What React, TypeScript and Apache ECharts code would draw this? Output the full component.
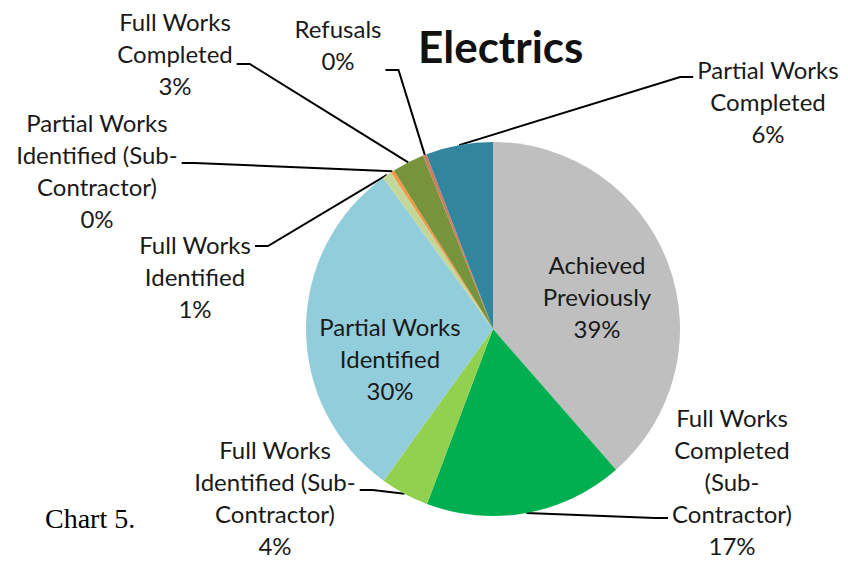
import React, { useEffect, useRef } from "react";
import * as echarts from "echarts";

const categories = [
  "Achieved\nPreviously",
  "Full Works\nCompleted\n(Sub-\nContractor)",
  "Full Works\nIdentified (Sub-\nContractor)",
  "Partial Works\nIdentified",
  "Full Works\nIdentified",
  "Partial Works\nIdentified (Sub-\nContractor)",
  "Full Works\nCompleted",
  "Refusals",
  "Partial Works\nCompleted",
];
const values = [38.6, 17.2, 4.2, 30.1, 0.8, 0.3, 2.8, 0.3, 5.8];
const colors = [
  "#BFBFBF",
  "#00B050",
  "#92D050",
  "#92CDDC",
  "#C4D79B",
  "#F79646",
  "#77933C",
  "#D07A5E",
  "#31859C",
];
const insideLabels = [true, false, false, true, false, false, false, false, false];

// ---- layout only ----
const CX = 493;
const CY = 329;
const R = 187;
// label block centres
const labelPos = [
  [597, 296],
  [732, 481],
  [275, 497],
  [390, 358],
  [195, 276],
  [97, 170],
  [175, 53],
  [338, 44],
  [768, 101],
];
// leader attach side (+1 right edge, -1 left edge) and vertical offset from block centre
const anchorSide = [0, -1, 1, 0, 1, 1, 1, 1, -1];
const anchorDy = [0, 37, -7, 0, -30, -7, 11, 26, -24];

export default function App() {
  const ref = useRef<HTMLDivElement>(null);
  useEffect(() => {
    document.body.style.margin = "0";
    if (!ref.current) return;
    const chart = echarts.init(ref.current, null, { renderer: "svg" });
    const font = "Lato, 'Open Sans', sans-serif";
    const total = values.reduce((a, b) => a + b, 0);
    const midPoint = (i: number) => {
      let before = 0;
      for (let k = 0; k < i; k++) before += values[k];
      const frac = (before + values[i] / 2) / total;
      const th = frac * Math.PI * 2;
      return [CX + R * Math.sin(th), CY - R * Math.cos(th)];
    };
    chart.setOption({
      animation: false,
      backgroundColor: "#ffffff",
      title: {
        text: "Electrics",
        left: 413,
        top: 19,
        textStyle: { fontFamily: font, fontSize: 44, fontWeight: "bold", color: "#111" },
      },
      graphic: [
        {
          type: "text",
          left: 45,
          top: 504,
          style: { text: "Chart 5.", fontFamily: "'Liberation Serif', serif", fontSize: 28, fill: "#000" },
        },
      ],
      series: [
        {
          type: "pie",
          center: [CX, CY],
          radius: R,
          startAngle: 90,
          clockwise: true,
          avoidLabelOverlap: false,
          itemStyle: { borderWidth: 0 },
          label: {
            show: true,
            position: "outside",
            fontFamily: font,
            fontSize: 24,
            lineHeight: 32,
            color: "#1a1a1a",
            align: "center",
            formatter: (p: any) => `${p.name}\n${Math.round(p.percent)}%`,
          },
          labelLine: {
            show: true,
            length: 10,
            length2: 12,
            minTurnAngle: 0,
            lineStyle: { color: "#000", width: 2 },
          },
          labelLayout: (p: any) => {
            const i = p.dataIndex;
            const pos = labelPos[i];
            const out: any = { x: pos[0], y: pos[1], align: "center", verticalAlign: "middle" };
            if (!insideLabels[i]) {
              const w = p.labelRect.width;
              const side = anchorSide[i];
              const ax = pos[0] + side * (w / 2 + 4);
              const ay = pos[1] + anchorDy[i];
              const sx = ax + side * 13;
              out.labelLinePoints = [midPoint(i), [sx, ay], [ax, ay]];
            }
            return out;
          },
          data: values.map((v, i) => ({
            name: categories[i],
            value: v,
            itemStyle: { color: colors[i] },
            label: insideLabels[i] ? { position: "inside" } : undefined,
            labelLine: insideLabels[i] ? { show: false } : undefined,
          })),
        },
      ],
    });
    return () => chart.dispose();
  }, []);
  return <div ref={ref} style={{ width: 848, height: 561 }} />;
}
